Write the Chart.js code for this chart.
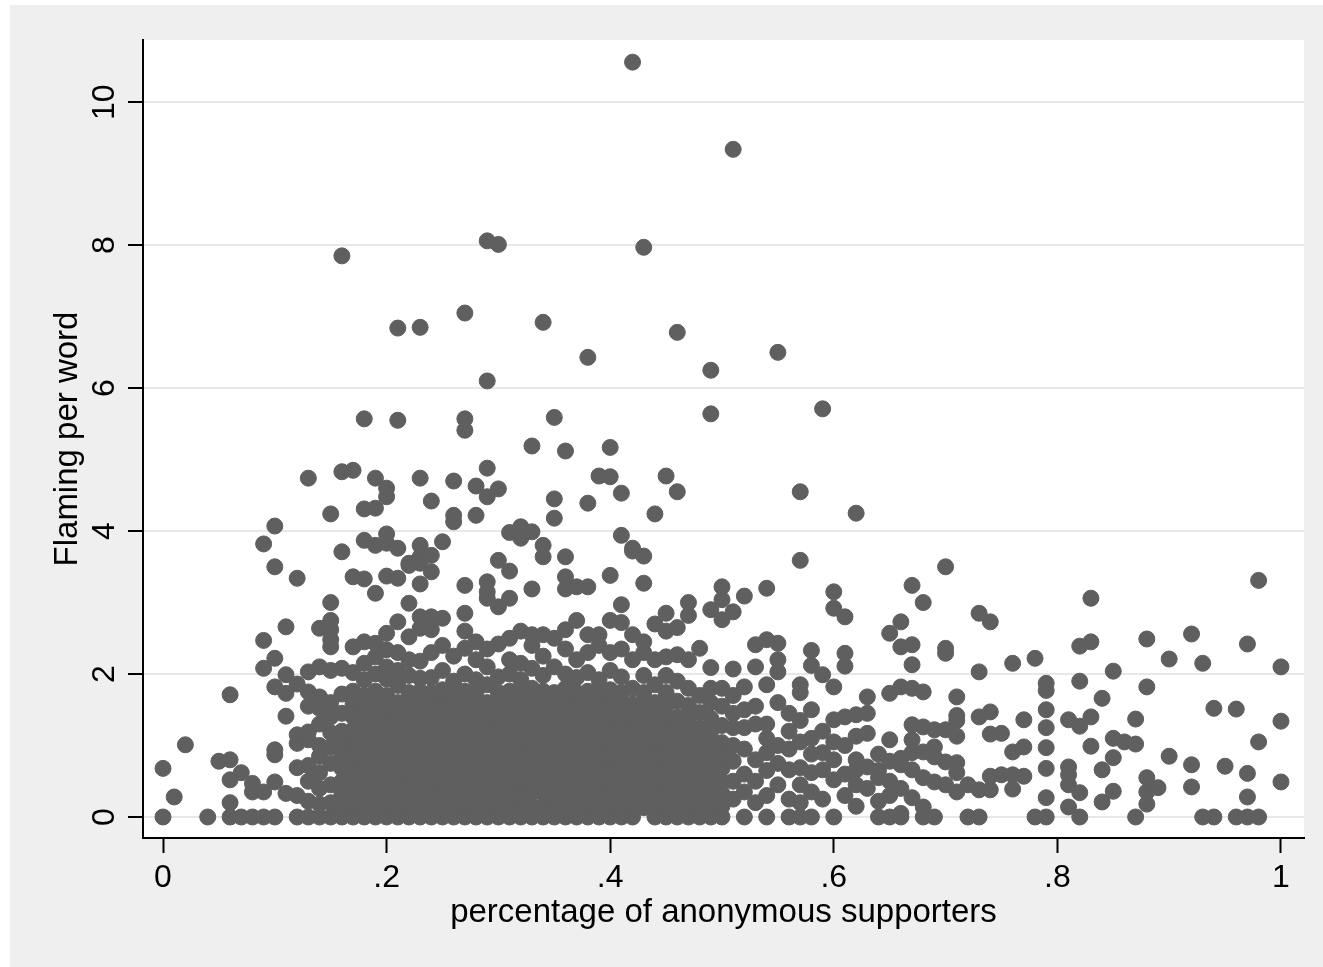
<!DOCTYPE html>
<html>
<head>
<meta charset="utf-8">
<script src="https://cdn.jsdelivr.net/npm/chart.js@4.4.0/dist/chart.umd.min.js"></script>
<style>
  html, body { margin: 0; padding: 0; background: #fff; }
  #wrap { width: 1323px; height: 967px; }
</style>
</head>
<body>
<div id="wrap"><canvas id="chart" width="1323" height="967"></canvas></div>
<script>
// ---- DATA ----
// each entry: [x, [y values stacked at that x]]
const sparseLeft = [
  [0.00, [0, 0.68]],
  [0.01, [0.28]],
  [0.02, [1.01]],
  [0.04, [0]],
  [0.05, [0.78]],
  [0.06, [0, 0.2, 0.52, 0.8, 1.71]],
  [0.07, [0, 0.62]],
  [0.08, [0, 0.35, 0.47]],
  [0.09, [0, 0.35, 2.08, 2.47, 3.82]],
  [0.10, [0, 0.49, 0.87, 0.94, 1.82, 2.22, 3.5, 4.07]],
  [0.11, [0.33, 1.41, 1.73, 1.99, 2.66]],
  [0.12, [0, 0.3, 0.69, 1.03, 1.15, 1.86, 3.34]],
  [0.13, [0, 0.22, 0.5, 0.72, 1.08, 1.19, 1.55, 1.75, 2.03, 4.74]],
  [0.14, [0, 0.18, 0.4, 0.62, 0.85, 1.0, 1.3, 1.52, 1.68, 2.1, 2.64]],
  [0.15, [0, 0.2, 0.45, 0.75, 0.98, 1.18, 1.4, 1.6, 2.05, 2.38, 2.48, 2.62, 2.75, 3.0, 4.24]],
  [0.16, [0, 0.14, 0.32, 0.5, 0.68, 0.86, 1.02, 1.2, 1.45, 1.72, 2.08, 3.71, 4.83, 7.85]]
];

const coreLeft = [
  [0.17, [0, 0.16, 0.34, 0.52, 0.7, 0.88, 1.05, 1.22, 1.4, 1.58, 1.76, 2.02, 2.38, 3.36, 4.85]],
  [0.18, [0, 0.12, 0.3, 0.48, 0.66, 0.84, 1.0, 1.18, 1.36, 1.54, 1.7, 1.92, 2.15, 2.45, 3.33, 3.87, 4.31, 5.57]],
  [0.19, [0, 0.15, 0.33, 0.5, 0.68, 0.86, 1.04, 1.22, 1.4, 1.58, 1.76, 2.0, 2.24, 2.43, 3.13, 3.8, 4.32, 4.74]],
  [0.20, [0, 0.13, 0.3, 0.47, 0.65, 0.82, 1.0, 1.17, 1.35, 1.52, 1.7, 1.93, 2.1, 2.34, 2.57, 3.37, 3.83, 3.96, 4.48, 4.6]],
  [0.21, [0, 0.16, 0.34, 0.52, 0.7, 0.88, 1.06, 1.24, 1.42, 1.6, 1.84, 2.05, 2.3, 2.73, 3.34, 3.76, 5.55, 6.84]],
  [0.22, [0, 0.12, 0.3, 0.48, 0.66, 0.84, 1.02, 1.2, 1.38, 1.56, 1.74, 1.98, 2.2, 2.52, 2.99, 3.52, 3.55]],
  [0.23, [0, 0.15, 0.33, 0.5, 0.68, 0.86, 1.04, 1.22, 1.4, 1.58, 1.76, 1.94, 2.18, 2.64, 2.8, 3.26, 3.55, 3.64, 3.8, 4.74, 6.85]],
  [0.24, [0, 0.13, 0.3, 0.48, 0.66, 0.84, 1.02, 1.2, 1.38, 1.56, 1.74, 1.95, 2.3, 2.62, 2.8, 3.43, 3.66, 4.42]],
  [0.25, [0, 0.16, 0.34, 0.52, 0.7, 0.88, 1.06, 1.24, 1.42, 1.6, 1.78, 2.05, 2.4, 2.78, 3.85]],
  [0.26, [0, 0.12, 0.3, 0.48, 0.66, 0.84, 1.02, 1.2, 1.38, 1.56, 1.74, 1.9, 2.25, 4.13, 4.22, 4.7]],
  [0.27, [0, 0.15, 0.33, 0.5, 0.68, 0.86, 1.04, 1.22, 1.4, 1.58, 1.76, 2.0, 2.36, 2.6, 2.85, 3.24, 5.41, 5.57, 7.05]],
  [0.28, [0, 0.13, 0.3, 0.48, 0.66, 0.84, 1.02, 1.2, 1.38, 1.56, 1.74, 1.92, 2.2, 2.45, 4.22, 4.63]],
  [0.29, [0, 0.16, 0.34, 0.52, 0.7, 0.88, 1.06, 1.24, 1.42, 1.6, 1.85, 2.1, 2.35, 3.06, 3.15, 3.29, 4.48, 4.88, 6.1, 8.06]],
  [0.30, [0, 0.12, 0.3, 0.48, 0.66, 0.84, 1.02, 1.2, 1.38, 1.56, 1.74, 1.96, 2.42, 2.94, 3.59, 4.59, 8.01]],
  [0.31, [0, 0.15, 0.33, 0.5, 0.68, 0.86, 1.04, 1.22, 1.4, 1.58, 1.76, 2.0, 2.2, 2.5, 3.06, 3.44, 3.98]],
  [0.32, [0, 0.13, 0.3, 0.48, 0.66, 0.84, 1.02, 1.2, 1.38, 1.56, 1.74, 1.92, 2.15, 2.6, 3.9, 4.06]],
  [0.33, [0, 0.16, 0.34, 0.52, 0.7, 0.88, 1.06, 1.24, 1.42, 1.6, 1.8, 2.08, 2.4, 2.55, 3.19, 3.99, 5.19]]
];

const coreRight = [
  [0.34, [0, 0.15, 0.33, 0.5, 0.68, 0.86, 1.04, 1.22, 1.4, 1.58, 1.76, 1.98, 2.25, 2.55, 3.64, 3.8, 6.92]],
  [0.35, [0, 0.13, 0.3, 0.48, 0.66, 0.84, 1.02, 1.2, 1.38, 1.56, 1.74, 2.1, 2.5, 4.18, 4.45, 5.59]],
  [0.36, [0, 0.16, 0.34, 0.52, 0.7, 0.88, 1.06, 1.24, 1.42, 1.6, 1.8, 2.0, 2.35, 2.62, 3.19, 3.36, 3.64, 5.12]],
  [0.37, [0, 0.12, 0.3, 0.48, 0.66, 0.84, 1.02, 1.2, 1.38, 1.56, 1.74, 1.95, 2.2, 2.75, 3.22]],
  [0.38, [0, 0.15, 0.33, 0.5, 0.68, 0.86, 1.04, 1.22, 1.4, 1.58, 1.76, 2.02, 2.3, 2.55, 3.22, 4.39, 6.43]],
  [0.39, [0, 0.13, 0.3, 0.48, 0.66, 0.84, 1.02, 1.2, 1.38, 1.56, 1.74, 1.92, 2.4, 2.55, 4.77]],
  [0.40, [0, 0.16, 0.34, 0.52, 0.7, 0.88, 1.06, 1.24, 1.42, 1.6, 1.78, 2.05, 2.3, 2.75, 3.38, 4.76, 5.17]],
  [0.41, [0, 0.12, 0.3, 0.48, 0.66, 0.84, 1.02, 1.2, 1.38, 1.56, 1.74, 1.96, 2.35, 2.72, 2.97, 3.94, 4.53]],
  [0.42, [0, 0.15, 0.33, 0.5, 0.68, 0.86, 1.04, 1.22, 1.4, 1.58, 1.8, 2.2, 2.55, 3.72, 3.76, 10.56]],
  [0.43, [0.13, 0.3, 0.48, 0.66, 0.84, 1.02, 1.2, 1.38, 1.56, 1.74, 1.98, 2.3, 2.45, 3.27, 3.65, 7.97]],
  [0.44, [0, 0.16, 0.34, 0.52, 0.7, 0.88, 1.06, 1.24, 1.42, 1.6, 1.85, 2.2, 2.7, 4.24]],
  [0.45, [0, 0.12, 0.3, 0.48, 0.66, 0.84, 1.02, 1.2, 1.38, 1.56, 1.74, 1.98, 2.24, 2.6, 2.85, 4.77]],
  [0.46, [0, 0.15, 0.33, 0.5, 0.68, 0.86, 1.04, 1.22, 1.4, 1.62, 1.9, 2.27, 2.65, 4.55, 6.78]],
  [0.47, [0, 0.13, 0.3, 0.48, 0.66, 0.84, 1.02, 1.2, 1.38, 1.56, 1.8, 2.2, 2.82, 3.0]],
  [0.48, [0, 0.16, 0.34, 0.52, 0.7, 0.88, 1.06, 1.24, 1.46, 1.7, 2.36]],
  [0.49, [0, 0.12, 0.3, 0.48, 0.66, 0.84, 1.02, 1.2, 1.38, 1.6, 1.8, 2.09, 2.9, 5.64, 6.25]],
  [0.50, [0, 0.15, 0.33, 0.5, 0.68, 0.86, 1.04, 1.28, 1.55, 1.8, 2.76, 3.04, 3.22]]
];

const midRight = [
  [0.51, [0.25, 0.5, 0.78, 1.0, 1.25, 1.45, 1.7, 2.07, 2.87, 9.34]],
  [0.52, [0, 0.35, 0.6, 0.95, 1.25, 1.5, 1.82, 3.09]],
  [0.53, [0.2, 0.5, 0.8, 1.3, 1.55, 2.1, 2.41]],
  [0.54, [0, 0.3, 0.65, 0.9, 1.1, 1.3, 1.85, 2.48, 3.2]],
  [0.55, [0.45, 0.75, 1.0, 1.6, 2.03, 2.2, 2.43, 6.5]],
  [0.56, [0, 0.25, 0.66, 0.95, 1.2, 1.45]],
  [0.57, [0, 0.2, 0.45, 0.69, 1.05, 1.35, 1.74, 1.85, 3.59, 4.55]],
  [0.58, [0, 0.35, 0.62, 0.88, 1.1, 1.5, 2.12, 2.33]],
  [0.59, [0.25, 0.66, 0.9, 1.2, 1.99, 5.71]],
  [0.60, [0, 0.52, 0.8, 1.05, 1.36, 1.82, 2.92, 3.15]],
  [0.61, [0.3, 0.6, 1.0, 1.4, 2.11, 2.29, 2.8]],
  [0.62, [0.15, 0.45, 0.66, 0.8, 1.13, 1.43, 4.25]],
  [0.63, [0.4, 0.7, 1.17, 1.45, 1.68]],
  [0.64, [0, 0.22, 0.55, 0.65, 0.88]],
  [0.65, [0, 0.3, 0.5, 0.78, 1.08, 1.73, 2.57]],
  [0.66, [0, 0.05, 0.4, 0.73, 0.82, 1.82, 2.38, 2.73]]
];

const tailRight = [
  [0.67, [0.27, 0.66, 0.9, 1.08, 1.29, 1.8, 2.13, 2.41, 3.24]],
  [0.68, [0, 0.14, 0.55, 0.91, 1.26, 1.75, 3.0]],
  [0.69, [0, 0.49, 0.84, 0.98, 1.22]],
  [0.70, [0.45, 0.77, 1.22, 2.29, 2.36, 3.5]],
  [0.71, [0.35, 0.62, 0.76, 1.13, 1.35, 1.42, 1.68]],
  [0.72, [0, 0.45]],
  [0.73, [0, 0.38, 1.4, 2.03, 2.85]],
  [0.74, [0.38, 0.57, 1.16, 1.47, 2.73]],
  [0.75, [0.59, 1.17]],
  [0.76, [0.39, 0.59, 0.91, 2.15]],
  [0.77, [0.57, 0.98, 1.36]],
  [0.78, [0, 2.22]],
  [0.79, [0, 0.27, 0.68, 0.97, 1.25, 1.5, 1.77, 1.87]],
  [0.81, [0.14, 0.45, 0.59, 0.7, 1.36]],
  [0.82, [0, 0.34, 1.27, 1.9, 2.39]],
  [0.83, [0.99, 1.4, 2.45, 3.06]],
  [0.84, [0.21, 0.66, 1.66]],
  [0.85, [0.36, 0.83, 1.1, 2.04]],
  [0.86, [1.05]],
  [0.87, [0, 1.02, 1.37]],
  [0.88, [0.18, 0.35, 0.55, 1.82, 2.49]],
  [0.89, [0.41]],
  [0.90, [0.85, 2.21]],
  [0.92, [0.42, 0.73, 2.56]],
  [0.93, [0, 2.15]],
  [0.94, [0, 1.52]],
  [0.95, [0.71]],
  [0.96, [0, 1.51]],
  [0.97, [0, 0.28, 0.61, 2.42]],
  [0.98, [0, 1.05, 3.31]],
  [1.00, [0.49, 1.34, 2.1]]
];

const xTickValues = [0, 0.2, 0.4, 0.6, 0.8, 1];
const xTickLabels = ["0", ".2", ".4", ".6", ".8", "1"];
const yTickValues = [0, 2, 4, 6, 8, 10];
const yTickLabels = ["0", "2", "4", "6", "8", "10"];

const X_TITLE = "percentage of anonymous supporters";
const Y_TITLE = "Flaming per word";

// ---- BUILD POINTS ----
const points = [];
[sparseLeft, coreLeft, coreRight, midRight, tailRight].forEach(group=>{
  group.forEach(([x, ys])=>{
    ys.forEach(y=> points.push({ x, y }));
  });
});

// ---- STYLE ----
const TICK_FONT  = { family: "'Liberation Sans', Arial, sans-serif", size: 32 };
const TITLE_FONT = { family: "'Liberation Sans', Arial, sans-serif", size: 33 };
const DOT = "#5f5f5f";

const backdrop = {
  id: "backdrop",
  beforeDraw(chart){
    const { ctx, chartArea: a } = chart;
    ctx.save();
    ctx.fillStyle = "#ffffff";
    ctx.fillRect(0, 0, chart.width, chart.height);
    ctx.fillStyle = "#efefef";
    ctx.fillRect(10, 5, chart.width - 10, chart.height - 5);
    ctx.fillStyle = "#ffffff";
    ctx.fillRect(a.left, a.top, a.right - a.left, a.bottom - a.top);
    ctx.restore();
  }
};

new Chart(document.getElementById("chart").getContext("2d"), {
  type: "scatter",
  data: {
    datasets: [{
      data: points,
      pointRadius: 8,
      pointBorderWidth: 1,
      pointBackgroundColor: DOT,
      pointBorderColor: DOT,
      pointHoverRadius: 8
    }]
  },
  options: {
    responsive: false,
    animation: false,
    events: [],
    layout: { padding: { left: 0, top: 40, right: 19, bottom: 0 } },
    plugins: { legend: { display: false }, tooltip: { enabled: false } },
    scales: {
      x: {
        type: "linear",
        min: -0.0179,
        max: 1.0206,
        afterBuildTicks: s => { s.ticks = xTickValues.map(v => ({ value: v })); },
        afterFit: s => { s.height = 129; },
        grid: { drawOnChartArea: false, drawTicks: true, tickLength: 15, tickColor: "#000", tickWidth: 2 },
        border: { display: true, color: "#000", width: 2 },
        ticks: {
          color: "#000", font: TICK_FONT, padding: 6, maxRotation: 0, minRotation: 0,
          callback: (v, i) => xTickLabels[i]
        },
        title: { display: true, text: X_TITLE, color: "#000", font: TITLE_FONT, padding: { top: 0, bottom: 34 } }
      },
      y: {
        type: "linear",
        min: -0.294,
        max: 10.87,
        afterBuildTicks: s => { s.ticks = yTickValues.map(v => ({ value: v })); },
        afterFit: s => { s.width = 143; },
        grid: { color: "#e8e8e8", lineWidth: 2, drawTicks: true, tickLength: 15, tickColor: "#000", tickWidth: 2 },
        border: { display: true, color: "#000", width: 2 },
        ticks: {
          color: "#000", font: TICK_FONT, padding: 5, minRotation: 90, maxRotation: 90, crossAlign: "center",
          callback: (v, i) => yTickLabels[i]
        },
        title: { display: true, text: Y_TITLE, color: "#000", font: TITLE_FONT, padding: { top: 48, bottom: 0 } }
      }
    }
  },
  plugins: [backdrop]
});
</script>
</body>
</html>
